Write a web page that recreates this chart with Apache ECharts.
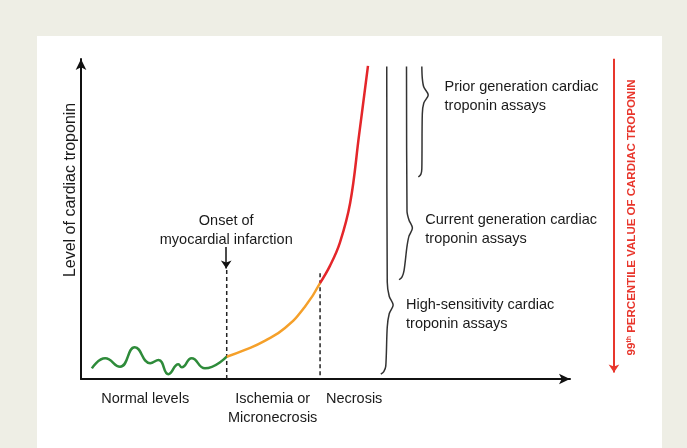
<!DOCTYPE html>
<html>
<head>
<meta charset="utf-8">
<script src="https://cdn.jsdelivr.net/npm/echarts@6/dist/echarts.min.js"></script>
<style>
html,body{margin:0;padding:0;background:#eeeee5;}
#main{width:687px;height:448px;}
</style>
</head>
<body>
<div id="main"></div>
<script>
// 正常水平（绿色波动）
let normalX=[2.2,4.9,7.9,10.9,14,15.7,17.7,19.7,20.4,22.4,25.1,29.5];
let normalY=[3.3,6.4,3.8,9.8,4.9,5.9,1.5,4.6,3.6,6.4,3.3,6.9];
// 缺血 / 微坏死（橙色）
let ischemiaX=[29.5,33.2,37.2,41.3,45.3,48.4];
let ischemiaY=[6.9,9.0,11.8,15.8,22.3,29.7];
// 坏死（红色）
let necrosisX=[48.4,50.4,52.4,54.5,56.3,58.1];
let necrosisY=[29.7,35.0,42.1,54.5,75.5,96.9];

// 三种检测的括号
let hsX=[61.9,62.0,62.4,63.2,62.4,62.0,61.7,61.3,60.7];
let hsY=[96.7,30,25.6,22.9,20.2,16,4,2.3,1.5];
let curX=[65.9,66.0,66.4,67.1,66.4,66.0,65.4,65.0,64.4];
let curY=[96.7,52,49.2,46.7,44.2,41,33.5,31.6,30.7];
let priorX=[69.0,69.1,69.4,70.3,69.4,69.1,69.0,68.8,68.3];
let priorY=[96.7,93,90.3,87.9,85.4,82,65,63.3,62.5];

// 分界虚线
let onsetX=29.5, onsetTop=33.7;
let necrosisLineX=48.4, necrosisTop=32.7;

// x 轴阶段标签
let stageNames=["Normal levels","Ischemia or\nMicronecrosis","Necrosis"];
let stagePos=[13.0,38.8,55.3];

let yTitle="Level of cardiac troponin";
let onsetText="Onset of\nmyocardial infarction";
let assayTexts=["Prior generation cardiac\ntroponin assays","Current generation cardiac\ntroponin assays","High-sensitivity cardiac\ntroponin assays"];

const zip=(xs,ys)=>xs.map((x,i)=>[x,ys[i]]);
const font="'Liberation Sans', Arial, sans-serif";
const narrow="'Liberation Sans Narrow', 'Liberation Sans', sans-serif";
const ink='#1a1a1a';

let chart=echarts.init(document.getElementById('main'));

function curve(name,xs,ys,color,width,smooth){
  return {
    name:name,type:'line',data:zip(xs,ys),smooth:smooth,
    showSymbol:false,symbol:'none',silent:true,
    lineStyle:{color:color,width:width},z:3
  };
}
function dashed(x,top){
  return {
    type:'line',data:[[x,top],[x,0]],symbol:'none',silent:true,
    lineStyle:{color:'#222',width:1.5,type:[4,3]},z:2
  };
}
function textPoint(x,y,text,opts){
  return {value:[x,y],label:Object.assign({
    show:true,formatter:text,color:ink,fontSize:14.5,fontFamily:font,lineHeight:19,
    textBorderWidth:0
  },opts)};
}

let option={
  backgroundColor:'#eeeee5',
  animation:false,
  graphic:[{
    type:'rect',shape:{x:37,y:36,width:625,height:412},
    style:{fill:'#ffffff'},z:0,silent:true
  }],
  grid:{left:81,top:59,width:489,height:320},
  xAxis:{
    type:'value',min:0,max:99,
    axisLine:{show:true,symbol:['none','arrow'],symbolSize:[8,11],lineStyle:{color:'#111',width:2}},
    axisTick:{show:false},
    splitLine:{show:false},
    axisLabel:{
      show:true,customValues:stagePos,margin:10,
      color:ink,fontSize:14.5,fontFamily:font,lineHeight:19,
      formatter:function(v){
        let i=stagePos.findIndex(p=>Math.abs(p-v)<0.01);
        return i<0?'':stageNames[i];
      }
    }
  },
  yAxis:{
    type:'value',min:0,max:99,
    axisLine:{show:true,symbol:['none','arrow'],symbolSize:[8,11],lineStyle:{color:'#111',width:2}},
    axisTick:{show:false},
    splitLine:{show:false},
    axisLabel:{show:false}
  },
  series:[
    curve('Normal',normalX,normalY,'#2e8b3a',2.5,0.5),
    curve('Ischemia',ischemiaX,ischemiaY,'#f5a02a',2.5,0.5),
    curve('Necrosis',necrosisX,necrosisY,'#e4262a',2.5,0.4),
    curve('hs',hsX,hsY,'#333',1.5,0.3),
    curve('current',curX,curY,'#333',1.5,0.3),
    curve('prior',priorX,priorY,'#333',1.5,0.3),
    dashed(onsetX,onsetTop),
    dashed(necrosisLineX,necrosisTop),
    {
      type:'lines',coordinateSystem:'cartesian2d',clip:false,silent:true,
      symbol:['none','arrow'],symbolSize:8,z:4,
      data:[
        {coords:[[29.4,40.8],[29.4,34.2]],lineStyle:{color:'#111',width:1.5}},
        {coords:[[107.9,99.1],[107.9,2.0]],lineStyle:{color:'#e8362c',width:2}}
      ],
      lineStyle:{opacity:1,curveness:0}
    },
    {
      type:'scatter',clip:false,silent:true,symbolSize:1,
      itemStyle:{color:'transparent',opacity:1},z:5,
      data:[
        textPoint(-2.2,58.5,yTitle,{position:'inside',rotate:90,fontSize:16}),
        textPoint(29.4,45.8,onsetText,{position:'inside',align:'center'}),
        textPoint(73.5,87.5,assayTexts[0],{position:'right',distance:0,align:'left'}),
        textPoint(69.6,46.4,assayTexts[1],{position:'right',distance:0,align:'left'}),
        textPoint(65.7,20.0,assayTexts[2],{position:'right',distance:0,align:'left'}),
        textPoint(111.6,50.0,'{a|99}{s|th}{a| PERCENTILE VALUE OF CARDIAC TROPONIN}',{
          position:'inside',rotate:90,
          rich:{
            a:{color:'#e8362c',fontSize:11.5,fontWeight:'bold',fontFamily:narrow,lineHeight:14},
            s:{color:'#e8362c',fontSize:7,fontWeight:'bold',fontFamily:narrow,lineHeight:14,verticalAlign:'top'}
          }
        })
      ]
    }
  ]
};

chart.setOption(option);
</script>
</body>
</html>
